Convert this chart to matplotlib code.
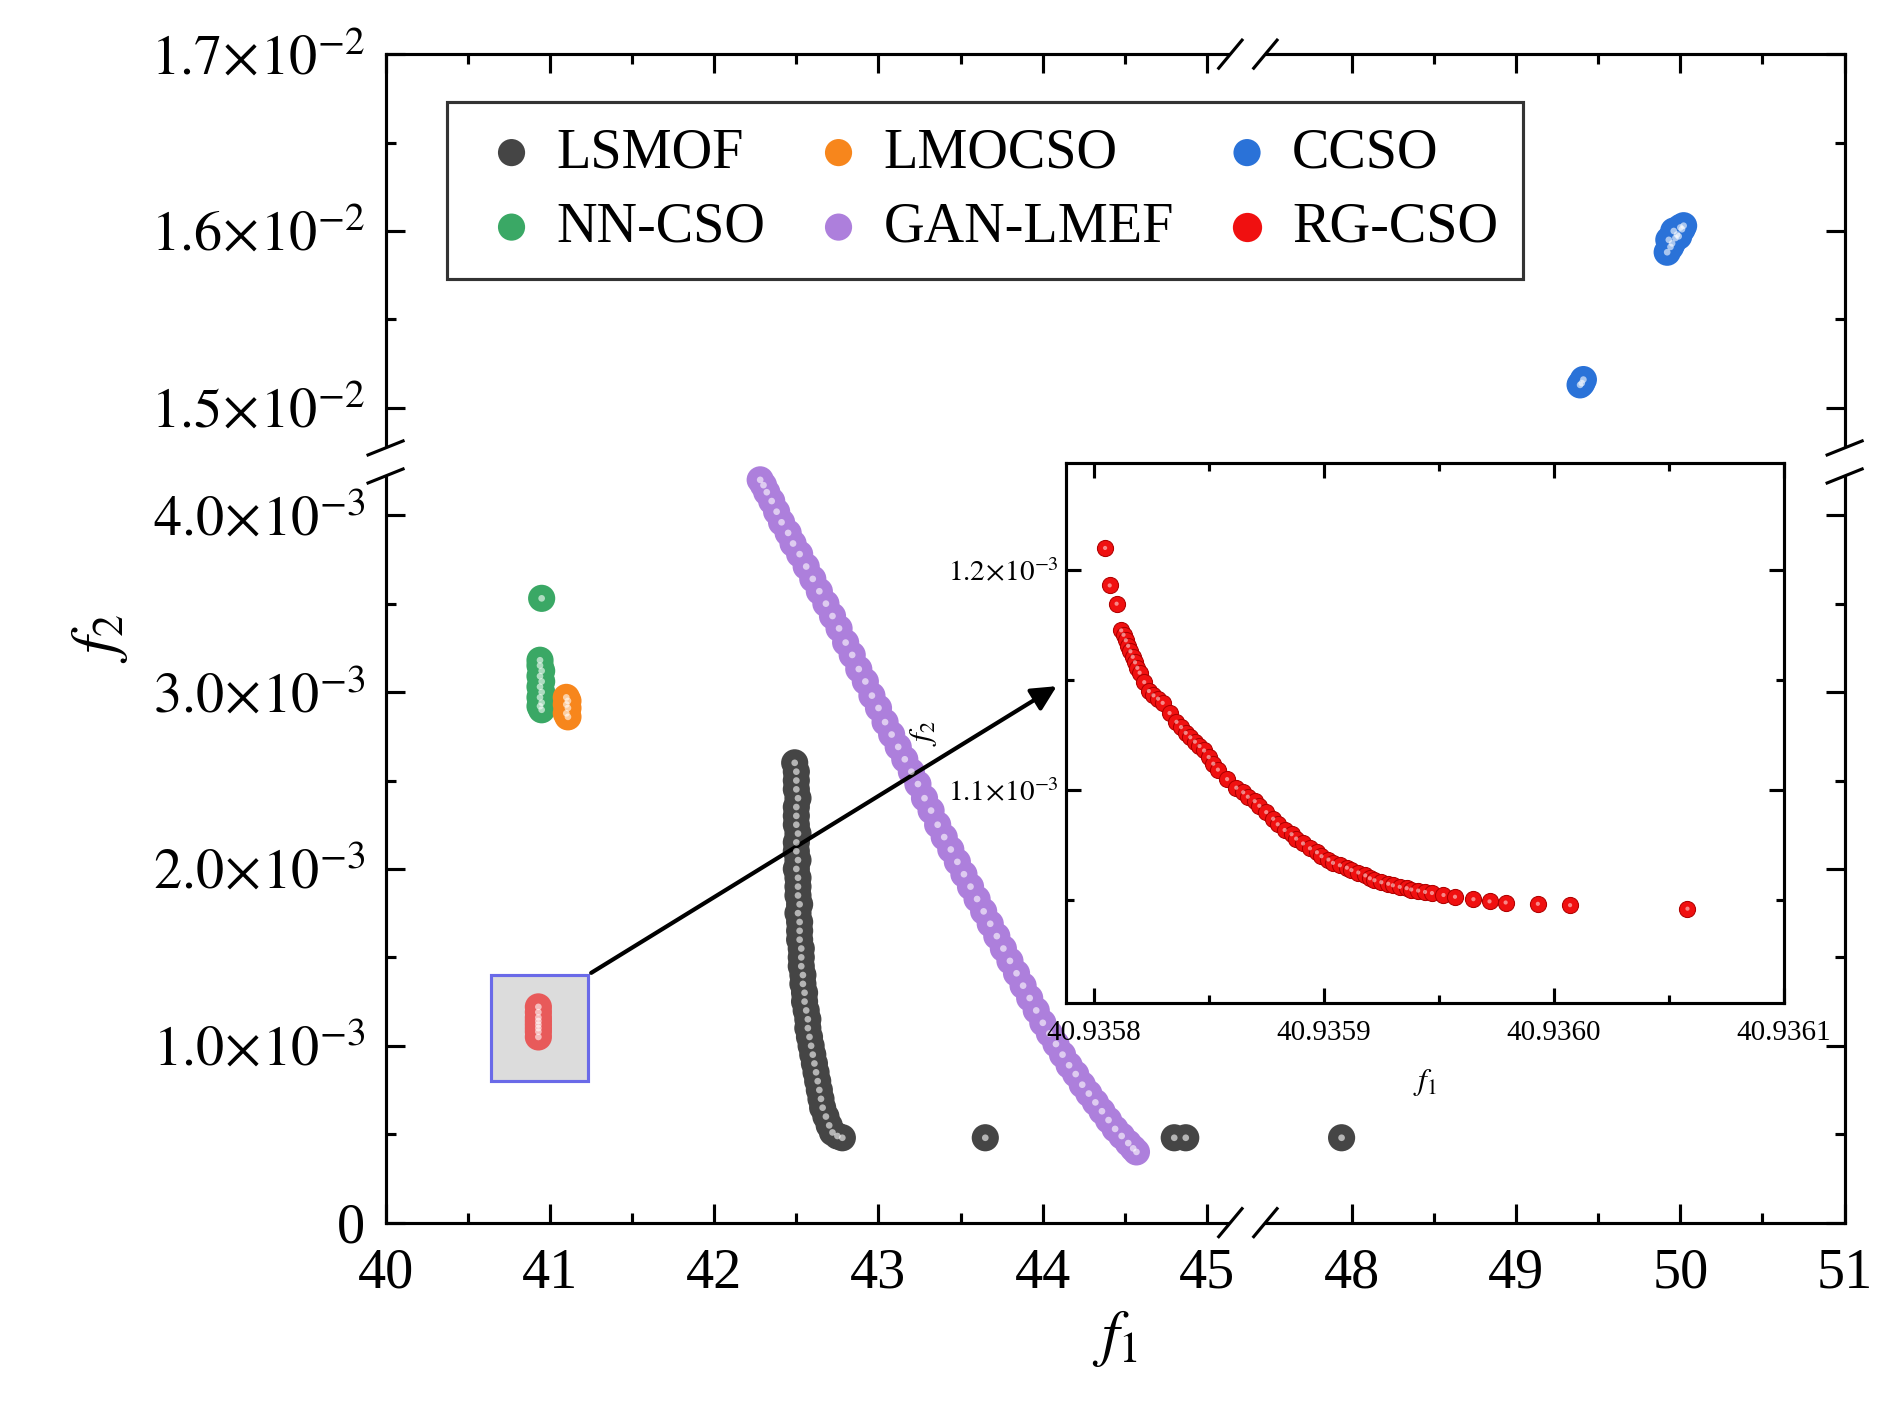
import matplotlib
matplotlib.use('Agg')
import matplotlib.pyplot as plt
import numpy as np
from matplotlib.patches import Rectangle

plt.rcParams['font.family'] = ['Liberation Serif', 'DejaVu Serif']
plt.rcParams['mathtext.fontset'] = 'stix'

# ---- data ----
lsmof_x = [42.49, 42.50, 42.50, 42.50, 42.51, 42.50, 42.50, 42.50, 42.51, 42.50, 42.50, 42.51,
           42.50, 42.51, 42.51, 42.51, 42.52, 42.51, 42.52, 42.52, 42.52, 42.53, 42.53, 42.53,
           42.54, 42.54, 42.55, 42.55, 42.56, 42.57, 42.57, 42.58, 42.59, 42.60, 42.61, 42.62,
           42.63, 42.64, 42.65, 42.66, 42.68, 42.70, 42.72, 42.75, 42.78, 43.65, 44.80, 44.87, 47.79]
lsmof_y = [2.60, 2.55, 2.50, 2.45, 2.40, 2.35, 2.30, 2.25, 2.20, 2.15, 2.10, 2.05,
           2.00, 1.95, 1.90, 1.85, 1.80, 1.75, 1.70, 1.65, 1.60, 1.55, 1.50, 1.45,
           1.40, 1.35, 1.30, 1.25, 1.20, 1.15, 1.10, 1.05, 1.00, 0.95, 0.90, 0.85,
           0.80, 0.75, 0.70, 0.65, 0.60, 0.55, 0.51, 0.49, 0.48, 0.48, 0.48, 0.48, 0.48]
gan_x = [42.28, 42.30, 42.32, 42.35, 42.38, 42.41, 42.45, 42.48, 42.52, 42.56, 42.60, 42.64,
         42.68, 42.72, 42.76, 42.80, 42.84, 42.88, 42.92, 42.96, 43.00, 43.04, 43.08, 43.12,
         43.16, 43.20, 43.24, 43.28, 43.32, 43.36, 43.40, 43.44, 43.48, 43.52, 43.56, 43.60,
         43.64, 43.68, 43.72, 43.76, 43.80, 43.84, 43.88, 43.92, 43.96, 44.00, 44.04, 44.08,
         44.12, 44.16, 44.20, 44.24, 44.28, 44.32, 44.36, 44.40, 44.44, 44.48, 44.52, 44.55, 44.57]
gan_y = [4.20, 4.17, 4.13, 4.08, 4.02, 3.96, 3.90, 3.84, 3.78, 3.71, 3.64, 3.57,
         3.50, 3.43, 3.36, 3.28, 3.21, 3.13, 3.06, 2.98, 2.91, 2.83, 2.76, 2.69,
         2.62, 2.55, 2.48, 2.40, 2.33, 2.25, 2.18, 2.11, 2.04, 1.97, 1.90, 1.83,
         1.76, 1.69, 1.62, 1.55, 1.48, 1.41, 1.34, 1.27, 1.20, 1.13, 1.07, 1.01,
         0.95, 0.89, 0.84, 0.78, 0.73, 0.68, 0.63, 0.58, 0.53, 0.49, 0.45, 0.42, 0.40]
nn_x = [40.95, 40.94, 40.94, 40.95, 40.94, 40.95, 40.94, 40.95, 40.94, 40.95, 40.94, 40.95]
nn_y = [3.53, 3.18, 3.15, 3.12, 3.09, 3.06, 3.03, 3.00, 2.97, 2.94, 2.92, 2.90]
lmo_x = [41.10, 41.11, 41.10, 41.11, 41.10, 41.11]
lmo_y = [2.97, 2.95, 2.93, 2.91, 2.88, 2.86]
ccso_x = [49.40, 49.41, 49.39, 49.92, 49.94, 49.95, 49.97, 49.98, 50.00, 50.02, 49.96, 49.93, 49.99, 50.01]
ccso_y = [15.14, 15.16, 15.13, 15.88, 15.91, 15.93, 15.96, 15.98, 16.02, 16.03, 16.00, 15.95, 15.97, 16.01]
rg_main_x = [40.93, 40.93, 40.93, 40.93, 40.93, 40.93, 40.93, 40.93]
rg_main_y = [1.05, 1.08, 1.10, 1.12, 1.14, 1.16, 1.19, 1.22]
rg_x = [40.935805, 40.935807, 40.93581, 40.935812, 40.935813, 40.935814, 40.935815, 40.935816,
        40.935817, 40.935818, 40.935819, 40.93582, 40.935822, 40.935824, 40.935826, 40.935828,
        40.93583, 40.935833, 40.935836, 40.935838, 40.93584, 40.935842, 40.935844, 40.935846,
        40.935848, 40.93585, 40.935852, 40.935854, 40.935858, 40.935862, 40.935865, 40.935867,
        40.93587, 40.935872, 40.935875, 40.935878, 40.93588, 40.935883, 40.935886, 40.935888,
        40.935891, 40.935894, 40.935897, 40.935899, 40.935902, 40.935904, 40.935907, 40.93591,
        40.935912, 40.935915, 40.935918, 40.93592, 40.935922, 40.935925, 40.935928, 40.93593,
        40.935933, 40.935936, 40.935938, 40.935941, 40.935944, 40.935947, 40.935952, 40.935957,
        40.935965, 40.935972, 40.935979, 40.935993, 40.936007, 40.936058]
rg_y = [1.2099, 1.1929, 1.1846, 1.1725, 1.1705, 1.1680, 1.1655, 1.1630, 1.1605, 1.1580, 1.1555,
        1.1533, 1.1490, 1.1450, 1.1430, 1.1415, 1.1396, 1.1350, 1.1310, 1.1286, 1.1260, 1.1240,
        1.1220, 1.1200, 1.1180, 1.1150, 1.1120, 1.1093, 1.1050, 1.1011, 1.0990, 1.0970, 1.0950,
        1.0929, 1.0900, 1.0870, 1.0845, 1.0819, 1.0800, 1.0780, 1.0758, 1.0736, 1.0718, 1.0700,
        1.0685, 1.0670, 1.0659, 1.0648, 1.0637, 1.0626, 1.0613, 1.0600, 1.0591, 1.0582, 1.0575,
        1.0568, 1.0561, 1.0555, 1.0549, 1.0544, 1.0538, 1.0533, 1.0524, 1.0516, 1.0505, 1.0495,
        1.0490, 1.0484, 1.0478, 1.0462]
rg_y_inset = [v * 1e-3 for v in rg_y]


def fx(x):
    x = np.asarray(x, float)
    return np.where(x <= 45, x - 40, np.where(x <= 48, 5 + (x - 45) * 0.88 / 3, x - 48 + 5.88))


def ifx(u):
    u = np.asarray(u, float)
    return np.where(u <= 5, u + 40, np.where(u <= 5.88, 45 + (u - 5) * 3 / 0.88, u + 48 - 5.88))


def fy(y):
    y = np.asarray(y, float) * 1e3
    return np.where(y <= 4.3, y, np.where(y <= 15, 4.3 + (y - 4.3) / 10.7 * 0.307, y - 15 + 4.607))


def ify(v):
    v = np.asarray(v, float)
    return np.where(v <= 4.3, v, np.where(v <= 4.607, 4.3 + (v - 4.3) / 0.307 * 10.7, v + 15 - 4.607)) * 1e-3


def balls(ax, x, y, c, s=170, label=None):
    ax.scatter(x, y, s=s, color=c, edgecolors='none', label=label, zorder=3)
    ax.scatter(x, y, s=s * 0.06, color='white', alpha=0.6, edgecolors='none', zorder=4)


fig = plt.figure(figsize=(12.6, 9.5), dpi=150)
ax = fig.add_axes([0.204, 0.142, 0.772, 0.82])
ax.set_xscale('function', functions=(fx, ifx))
ax.set_yscale('function', functions=(fy, ify))

e3 = lambda v: [t * 1e-3 for t in v]
balls(ax, lsmof_x, e3(lsmof_y), '#454545', label='LSMOF')
balls(ax, nn_x, e3(nn_y), '#3aa865', label='NN-CSO')
balls(ax, lmo_x, e3(lmo_y), '#f7861c', label='LMOCSO')
balls(ax, gan_x, e3(gan_y), '#ad7fdc', label='GAN-LMEF')
balls(ax, ccso_x, e3(ccso_y), '#2a72d8', label='CCSO')
ax.add_patch(Rectangle((40.64, 0.80e-3), 0.59, 0.60e-3, facecolor='#dcdcdc',
                       edgecolor='#6a6ae8', lw=1.5, zorder=2))
balls(ax, rg_main_x, e3(rg_main_y), '#e85a5a', s=170)
ax.scatter([], [], s=170, color='#f01010', label='RG-CSO')

ax.set_xlim(40, 51)
ax.set_ylim(0, 1.7e-2)
xt = [40, 41, 42, 43, 44, 45, 48, 49, 50, 51]
ax.set_xticks(xt)
ax.set_xticklabels([str(t) for t in xt])
ax.set_xticks([40.5, 41.5, 42.5, 43.5, 44.5, 48.5, 49.5, 50.5], minor=True)
yt = [0, 1e-3, 2e-3, 3e-3, 4e-3, 1.5e-2, 1.6e-2, 1.7e-2]
ylab = ['0', r'$1.0\!\times\!10^{-3}$', r'$2.0\!\times\!10^{-3}$', r'$3.0\!\times\!10^{-3}$',
        r'$4.0\!\times\!10^{-3}$', r'$1.5\!\times\!10^{-2}$', r'$1.6\!\times\!10^{-2}$',
        r'$1.7\!\times\!10^{-2}$']
ax.set_yticks(yt)
ax.set_yticklabels(ylab)
ax.set_yticks([0.5e-3, 1.5e-3, 2.5e-3, 3.5e-3, 1.55e-2, 1.65e-2], minor=True)
ax.tick_params(which='both', direction='in', top=True, right=True, labelsize=27, width=1.5)
ax.tick_params(which='major', length=9)
ax.tick_params(which='minor', length=5)
ax.tick_params(axis='x', pad=12)
ax.tick_params(axis='y', pad=10)
for sp in ax.spines.values():
    sp.set_linewidth(1.5)
ax.set_xlabel(r'$f_1$', fontsize=30, labelpad=4)
ax.set_ylabel(r'$f_2$', fontsize=30, labelpad=10)

# axis break marks
bx, dx = 0.591, 0.012
by, dy = 0.651, 0.012
for yy in (0, 1):
    ax.add_patch(Rectangle((bx - dx, yy - 0.006), 2 * dx, 0.012, transform=ax.transAxes,
                           facecolor='white', edgecolor='none', clip_on=False, zorder=5))
    for off in (-dx, dx):
        ax.plot([bx + off - 0.008, bx + off + 0.008], [yy - 0.012, yy + 0.012], 'k-', lw=1.5,
                transform=ax.transAxes, clip_on=False, zorder=6)
for xx in (0, 1):
    ax.add_patch(Rectangle((xx - 0.006, by - dy), 0.012, 2 * dy, transform=ax.transAxes,
                           facecolor='white', edgecolor='none', clip_on=False, zorder=5))
    for off in (-dy, dy):
        ax.plot([xx - 0.012, xx + 0.012], [by + off - 0.006, by + off + 0.006], 'k-', lw=1.5,
                transform=ax.transAxes, clip_on=False, zorder=6)

leg = ax.legend(ncol=3, loc='upper left', bbox_to_anchor=(0.042, 0.959), fontsize=27,
                frameon=True, fancybox=False, edgecolor='black', handletextpad=0.1,
                columnspacing=0.6, borderpad=0.45, labelspacing=0.4, handlelength=1.4,
                borderaxespad=0)
leg.get_frame().set_linewidth(1.5)

# inset
ins = fig.add_axes([0.564, 0.296, 0.38, 0.379])
ins.scatter(rg_x, rg_y_inset, s=60, color='#f01010', edgecolors='#b00000', linewidths=0.5, zorder=3)
ins.scatter(rg_x, rg_y_inset, s=4, color='white', alpha=0.5, edgecolors='none', zorder=4)
ins.set_xlim(40.935788, 40.9361)
ins.set_ylim(1.0033e-3, 1.2484e-3)
ins.set_xticks([40.9358, 40.9359, 40.9360, 40.9361])
ins.set_xticklabels(['40.9358', '40.9359', '40.9360', '40.9361'])
ins.set_xticks([40.93585, 40.93595, 40.93605], minor=True)
ins.set_yticks([1.1e-3, 1.2e-3])
ins.set_yticklabels([r'$1.1\!\times\!10^{-3}$', r'$1.2\!\times\!10^{-3}$'])
ins.set_yticks([1.05e-3, 1.15e-3], minor=True)
ins.tick_params(which='both', direction='in', top=True, right=True, labelsize=14, width=1.5)
ins.tick_params(which='major', length=7)
ins.tick_params(which='minor', length=4)
ins.tick_params(axis='x', pad=8)
for sp in ins.spines.values():
    sp.set_linewidth(1.5)
ins.set_xlabel(r'$f_1$', fontsize=15, labelpad=10)
ins.set_ylabel(r'$f_2$', fontsize=15)

ax.annotate('', xy=(0.561, 0.520), xycoords='figure fraction', xytext=(41.23, 1.40e-3),
            textcoords='data',
            arrowprops=dict(arrowstyle='-|>', color='black', lw=2, mutation_scale=25))

fig.savefig('out.png', dpi=150)
